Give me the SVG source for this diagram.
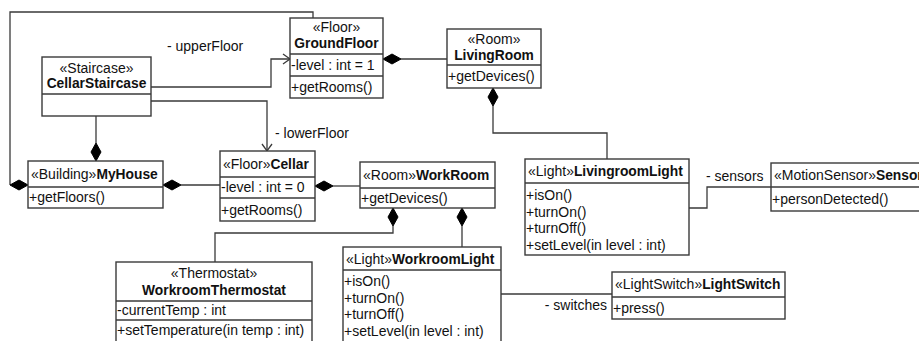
<svg xmlns="http://www.w3.org/2000/svg" width="919" height="341" viewBox="0 0 919 341">
<style>
text{font-family:"Liberation Sans",Arial,sans-serif;font-size:14px;fill:#111;dominant-baseline:central}
.b{font-weight:bold;font-size:13.8px}
.c{text-anchor:middle}
.box{fill:#fff;stroke:#3a3a3a;stroke-width:1.4}
.sep{stroke:#3a3a3a;stroke-width:1.4}
.ln{fill:none;stroke:#3a3a3a;stroke-width:1.3}
.dm{fill:#000;stroke:#000;stroke-width:1}
</style>
<rect width="919" height="341" fill="#fff"/>
<g id="connectors">
  <path class="ln" d="M313,18 V12 H10 V185"/>
  <polygon class="dm" points="28,185 19,180 10,185 19,190"/>
  <path class="ln" d="M96,116 V143"/>
  <polygon class="dm" points="96,161 91,152 96,143 101,152"/>
  <path class="ln" d="M181,185 H220"/>
  <polygon class="dm" points="163,185 172,180 181,185 172,190"/>
  <path class="ln" d="M333,186 H360"/>
  <polygon class="dm" points="315,186 324,181 333,186 324,191"/>
  <path class="ln" d="M151,87 H271 V59 H290"/>
  <path class="ln" d="M283,54 L290,59 L283,64"/>
  <path class="ln" d="M151,101 H267 V151"/>
  <path class="ln" d="M262,144 L267,151 L272,144"/>
  <path class="ln" d="M401,59 H447"/>
  <polygon class="dm" points="383,59 392,54 401,59 392,64"/>
  <path class="ln" d="M493,106 V133 H607 V159"/>
  <polygon class="dm" points="493,88 498,97 493,106 488,97"/>
  <path class="ln" d="M393,226 V233 H215 V262"/>
  <polygon class="dm" points="393,208 398,217 393,226 388,217"/>
  <path class="ln" d="M462,226 V247"/>
  <polygon class="dm" points="462,208 467,217 462,226 457,217"/>
  <path class="ln" d="M689,208 H707 V187 H771"/>
  <path class="ln" d="M501,294 H612"/>
  <text x="167" y="46">- upperFloor</text>
  <text x="275" y="133">- lowerFloor</text>
  <text x="706" y="176">- sensors</text>
  <text x="607" y="305" text-anchor="end">- switches</text>
</g>
<g id="CellarStaircase">
  <rect class="box" x="42" y="57" width="109" height="59"/>
  <line class="sep" x1="42" y1="94" x2="151" y2="94"/>
  <text class="c" x="96.5" y="68">«Staircase»</text>
  <text class="c b" x="96.5" y="83">CellarStaircase</text>
</g>
<g id="GroundFloor">
  <rect class="box" x="290" y="18" width="93" height="80"/>
  <line class="sep" x1="290" y1="54" x2="383" y2="54"/>
  <line class="sep" x1="290" y1="76" x2="383" y2="76"/>
  <text class="c" x="336.5" y="27">«Floor»</text>
  <text class="c b" x="336.5" y="43">GroundFloor</text>
  <text x="291" y="65">-level : int = 1</text>
  <text x="291" y="87">+getRooms()</text>
</g>
<g id="LivingRoom">
  <rect class="box" x="447" y="29" width="94" height="59"/>
  <line class="sep" x1="447" y1="65" x2="541" y2="65"/>
  <text class="c" x="494" y="39">«Room»</text>
  <text class="c b" x="494" y="55">LivingRoom</text>
  <text x="448" y="76">+getDevices()</text>
</g>
<g id="MyHouse">
  <rect class="box" x="28" y="161" width="135" height="47"/>
  <line class="sep" x1="28" y1="187" x2="163" y2="187"/>
  <text x="31" y="174">«Building»<tspan class="b">MyHouse</tspan></text>
  <text x="29" y="197">+getFloors()</text>
</g>
<g id="Cellar">
  <rect class="box" x="220" y="151" width="95" height="70"/>
  <line class="sep" x1="220" y1="177" x2="315" y2="177"/>
  <line class="sep" x1="220" y1="198" x2="315" y2="198"/>
  <text x="223" y="164">«Floor»<tspan class="b">Cellar</tspan></text>
  <text x="221" y="187">-level : int = 0</text>
  <text x="221" y="210">+getRooms()</text>
</g>
<g id="WorkRoom">
  <rect class="box" x="360" y="162" width="135" height="46"/>
  <line class="sep" x1="360" y1="188" x2="495" y2="188"/>
  <text x="363" y="175">«Room»<tspan class="b">WorkRoom</tspan></text>
  <text x="361" y="198">+getDevices()</text>
</g>
<g id="LivingroomLight">
  <rect class="box" x="525" y="159" width="164" height="96"/>
  <line class="sep" x1="525" y1="183" x2="689" y2="183"/>
  <text x="528" y="171">«Light»<tspan class="b">LivingroomLight</tspan></text>
  <text x="526" y="195">+isOn()</text>
  <text x="526" y="211.5">+turnOn()</text>
  <text x="526" y="228">+turnOff()</text>
  <text x="526" y="244.5">+setLevel(in level : int)</text>
</g>
<g id="Sensor">
  <rect class="box" x="771" y="163" width="160" height="48"/>
  <line class="sep" x1="771" y1="187" x2="931" y2="187"/>
  <text x="774" y="175">«MotionSensor»<tspan class="b">Sensor</tspan></text>
  <text x="772" y="199">+personDetected()</text>
</g>
<g id="WorkroomThermostat">
  <rect class="box" x="116" y="262" width="196" height="90"/>
  <line class="sep" x1="116" y1="301" x2="312" y2="301"/>
  <line class="sep" x1="116" y1="320" x2="312" y2="320"/>
  <text class="c" x="214" y="273">«Thermostat»</text>
  <text class="c b" x="214" y="290">WorkroomThermostat</text>
  <text x="117" y="310">-currentTemp : int</text>
  <text x="117" y="330">+setTemperature(in temp : int)</text>
</g>
<g id="WorkroomLight">
  <rect class="box" x="343" y="247" width="158" height="105"/>
  <line class="sep" x1="343" y1="270" x2="501" y2="270"/>
  <text x="346" y="259">«Light»<tspan class="b">WorkroomLight</tspan></text>
  <text x="344" y="281">+isOn()</text>
  <text x="344" y="297.5">+turnOn()</text>
  <text x="344" y="314">+turnOff()</text>
  <text x="344" y="330.5">+setLevel(in level : int)</text>
</g>
<g id="LightSwitch">
  <rect class="box" x="612" y="272" width="173" height="47"/>
  <line class="sep" x1="612" y1="297" x2="785" y2="297"/>
  <text x="615" y="284">«LightSwitch»<tspan class="b">LightSwitch</tspan></text>
  <text x="613" y="308">+press()</text>
</g>
</svg>
